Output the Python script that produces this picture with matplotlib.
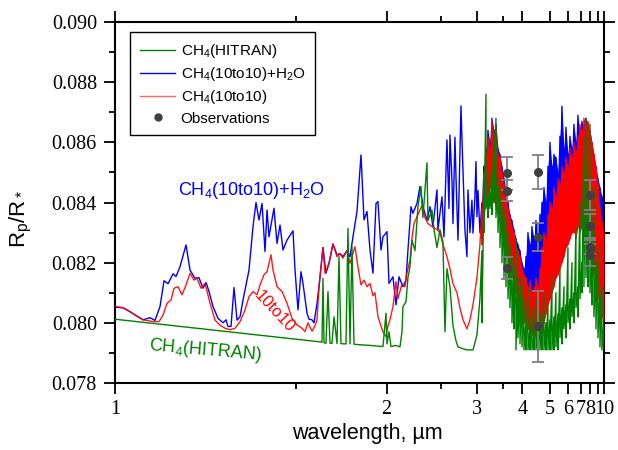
import numpy as np
import matplotlib
matplotlib.use('Agg')
import matplotlib.pyplot as plt
from matplotlib.lines import Line2D
from matplotlib.ticker import FixedLocator, MultipleLocator, FormatStrFormatter

plt.rcParams['font.family'] = ['Liberation Sans', 'DejaVu Sans']
plt.rcParams['mathtext.fontset'] = 'custom'
plt.rcParams['mathtext.rm'] = 'Liberation Sans'
plt.rcParams['mathtext.it'] = 'Liberation Sans'
plt.rcParams['mathtext.default'] = 'regular'

# spectra: wavenumber (cm-1, high -> low) and Rp/R*
green_nu = [10000, 8300, 6209, 6190, 6172, 6153, 6117, 6080, 6043, 6006, 5969, 5914,
            5877, 5841, 5785, 5749, 5712, 5675, 5638, 5601, 5491, 5307, 5068, 5012,
            4994, 4957, 4920, 4828, 4755, 4718, 4700, 4644, 4608, 4571, 4534, 4479,
            4424, 4368, 4332, 4258, 4240, 4166, 4129, 4074, 4019, 3964, 3927, 3890,
            3835, 3779, 3724, 3687, 3614, 3522, 3411, 3338, 3283]
green_val = [0.08012, 0.07978, 0.07936, 0.07936, 0.08148, 0.07934, 0.07932, 0.08104, 0.07932, 0.07932, 0.08020, 0.07931,
             0.08220, 0.07931, 0.07930, 0.07930, 0.08314, 0.07930, 0.08253, 0.07929, 0.07927, 0.07925, 0.07921, 0.08032,
             0.07930, 0.07970, 0.07921, 0.07925, 0.07920, 0.07970, 0.08054, 0.08070, 0.08150, 0.08186, 0.08275, 0.08240,
             0.08386, 0.08453, 0.08350, 0.08532, 0.08340, 0.08375, 0.08310, 0.08250, 0.08310, 0.08270, 0.07970, 0.08180,
             0.08120, 0.07990, 0.07940, 0.07920, 0.07915, 0.07910, 0.07910, 0.07960, 0.08080]

blue_nu = [10000, 9852, 9724, 9595, 9484, 9356, 9264, 9172, 9098, 9024, 8932, 8877,
           8803, 8693, 8619, 8527, 8454, 8380, 8325, 8270, 8196, 8104, 8012, 7957,
           7920, 7865, 7810, 7754, 7699, 7644, 7570, 7534, 7460, 7405, 7350, 7294,
           7239, 7202, 7166, 7074, 7018, 6963, 6908, 6834, 6724, 6687, 6632, 6577,
           6540, 6466, 6429, 6374, 6337, 6282, 6245, 6172, 6117, 6061, 5988, 5914,
           5859, 5804, 5730, 5675, 5620, 5546, 5472, 5417, 5362, 5307, 5252, 5196,
           5160, 5104, 5068, 4994, 4957, 4884, 4828, 4773, 4700, 4644, 4608, 4552,
           4516, 4442, 4387, 4332, 4258, 4203, 4148, 4074, 4056, 3982, 3945, 3890,
           3853, 3835, 3798, 3779, 3743, 3724, 3687, 3632, 3614, 3559, 3522, 3503,
           3467, 3430, 3411, 3375, 3356, 3338, 3319, 3283]
blue_val = [0.08052, 0.08050, 0.08037, 0.08022, 0.08010, 0.08017, 0.08008, 0.08054, 0.08140, 0.08130, 0.08163, 0.08154,
            0.08187, 0.08259, 0.08175, 0.08148, 0.08150, 0.08115, 0.08134, 0.08104, 0.08054, 0.08015, 0.08000, 0.08010,
            0.07988, 0.07988, 0.08117, 0.08009, 0.08020, 0.08076, 0.08142, 0.08175, 0.08320, 0.08400, 0.08342, 0.08397,
            0.08237, 0.08375, 0.08286, 0.08381, 0.08264, 0.08325, 0.08242, 0.08275, 0.08306, 0.08176, 0.08043, 0.08170,
            0.08131, 0.08032, 0.08012, 0.08010, 0.08000, 0.08065, 0.08120, 0.08250, 0.08165, 0.08198, 0.08262, 0.08226,
            0.08230, 0.08220, 0.08240, 0.08220, 0.08286, 0.08370, 0.08558, 0.08342, 0.08370, 0.08242, 0.08165, 0.08397,
            0.08403, 0.08242, 0.08286, 0.08303, 0.08131, 0.08153, 0.08060, 0.08153, 0.08120, 0.08142, 0.08242, 0.08386,
            0.08364, 0.08397, 0.08453, 0.08386, 0.08342, 0.08386, 0.08320, 0.08442, 0.08309, 0.08419, 0.08286, 0.08608,
            0.08380, 0.08624, 0.08475, 0.08330, 0.08617, 0.08486, 0.08275, 0.08721, 0.08610, 0.08309, 0.08220, 0.08442,
            0.08300, 0.08408, 0.08298, 0.08420, 0.08536, 0.08353, 0.08440, 0.08300]

red_nu = [10000, 9852, 9724, 9595, 9484, 9300, 9190, 9116, 9043, 8969, 8914, 8840,
          8767, 8693, 8619, 8546, 8491, 8417, 8343, 8251, 8159, 8067, 7975, 7883,
          7791, 7699, 7607, 7534, 7460, 7386, 7331, 7258, 7202, 7166, 7129, 7092,
          7018, 6926, 6834, 6742, 6650, 6558, 6503, 6448, 6374, 6319, 6282, 6245,
          6172, 6135, 6061, 5988, 5914, 5859, 5804, 5730, 5675, 5583, 5528, 5472,
          5417, 5362, 5307, 5252, 5215, 5160, 5123, 5068, 5012, 4976, 4939, 4884,
          4828, 4792, 4718, 4663, 4626, 4571, 4534, 4497, 4424, 4350, 4295, 4240,
          4166, 4074, 4019, 3964, 3890, 3835, 3779, 3706, 3651, 3595, 3522, 3467,
          3411, 3338, 3319, 3283]
red_val = [0.08055, 0.08050, 0.08037, 0.08022, 0.08010, 0.08004, 0.08004, 0.08026, 0.08065, 0.08076, 0.08115, 0.08120,
           0.08093, 0.08126, 0.08165, 0.08142, 0.08148, 0.08115, 0.08131, 0.08065, 0.08009, 0.07992, 0.07982, 0.07977,
           0.07982, 0.08004, 0.08043, 0.08087, 0.08104, 0.08093, 0.08126, 0.08160, 0.08170, 0.08198, 0.08226, 0.08176,
           0.08120, 0.08104, 0.08065, 0.08015, 0.07993, 0.07982, 0.07971, 0.08000, 0.07972, 0.07990, 0.08010, 0.08120,
           0.08250, 0.08165, 0.08198, 0.08262, 0.08220, 0.08230, 0.08215, 0.08240, 0.08198, 0.08253, 0.08186, 0.08126,
           0.08142, 0.08120, 0.08131, 0.08090, 0.08100, 0.08020, 0.08000, 0.07970, 0.07954, 0.07990, 0.08010, 0.08054,
           0.08137, 0.08080, 0.08130, 0.08120, 0.08165, 0.08209, 0.08280, 0.08330, 0.08360, 0.08390, 0.08350, 0.08330,
           0.08320, 0.08310, 0.08300, 0.08260, 0.08220, 0.08180, 0.08130, 0.08100, 0.08050, 0.08010, 0.07980, 0.08010,
           0.08060, 0.08150, 0.08190, 0.08260]

# dense band region (3.1 - 10 um): upper / lower excursions of each spectrum
dense_nu = [3246, 3209, 3172, 3135, 3099, 3062, 3025, 2988, 2951, 2915, 2878, 2841,
            2804, 2767, 2731, 2694, 2657, 2620, 2583, 2546, 2510, 2473, 2436, 2399,
            2362, 2326, 2289, 2252, 2215, 2178, 2142, 2105, 2068, 2031, 1994, 1958,
            1921, 1884, 1847, 1810, 1774, 1737, 1700, 1663, 1626, 1590, 1553, 1516,
            1479, 1442, 1406, 1369, 1332, 1295, 1258, 1222, 1185, 1148, 1111, 1074,
            1038, 1001]
red_hi = [0.0838, 0.0850, 0.0856, 0.0862, 0.0858, 0.0867, 0.0862, 0.0865, 0.0856, 0.0855, 0.0850, 0.0846,
          0.0842, 0.0838, 0.0835, 0.0832, 0.0830, 0.0826, 0.0824, 0.0822, 0.0818, 0.0816, 0.0815, 0.0812,
          0.0814, 0.0810, 0.0812, 0.0815, 0.0812, 0.0818, 0.0825, 0.0830, 0.0828, 0.0836, 0.0840, 0.0838,
          0.0845, 0.0842, 0.0848, 0.0846, 0.0852, 0.0850, 0.0855, 0.0852, 0.0858, 0.0855, 0.0860, 0.0857,
          0.0862, 0.0866, 0.0864, 0.0868, 0.0866, 0.0867, 0.0864, 0.0860, 0.0856, 0.0852, 0.0846, 0.0838,
          0.0834, 0.0830]
red_lo = [0.0826, 0.0835, 0.0840, 0.0842, 0.0845, 0.0842, 0.0840, 0.0838, 0.0836, 0.0834, 0.0830, 0.0826,
          0.0822, 0.0820, 0.0818, 0.0815, 0.0812, 0.0810, 0.0806, 0.0805, 0.0802, 0.0800, 0.0800, 0.0798,
          0.0797, 0.0796, 0.0795, 0.0796, 0.0795, 0.0797, 0.0798, 0.0800, 0.0803, 0.0806, 0.0808, 0.0810,
          0.0812, 0.0815, 0.0816, 0.0818, 0.0820, 0.0822, 0.0825, 0.0826, 0.0828, 0.0830, 0.0830, 0.0828,
          0.0832, 0.0830, 0.0832, 0.0830, 0.0828, 0.0826, 0.0825, 0.0820, 0.0816, 0.0812, 0.0808, 0.0805,
          0.0802, 0.0800]
blue_hi = [0.0840, 0.0852, 0.0858, 0.0864, 0.0860, 0.0868, 0.0864, 0.0866, 0.0858, 0.0856, 0.0852, 0.0848,
           0.0844, 0.0840, 0.0836, 0.0834, 0.0831, 0.0828, 0.0826, 0.0824, 0.0820, 0.0818, 0.0822, 0.0830,
           0.0826, 0.0832, 0.0828, 0.0834, 0.0830, 0.0836, 0.0840, 0.0845, 0.0840, 0.0852, 0.0860, 0.0852,
           0.0856, 0.0855, 0.0850, 0.0862, 0.0872, 0.0858, 0.0865, 0.0856, 0.0862, 0.0858, 0.0866, 0.0860,
           0.0869, 0.0862, 0.0867, 0.0864, 0.0868, 0.0866, 0.0864, 0.0860, 0.0856, 0.0852, 0.0848, 0.0845,
           0.0842, 0.0840]
blue_lo = [0.0828, 0.0836, 0.0842, 0.0844, 0.0846, 0.0844, 0.0842, 0.0840, 0.0838, 0.0836, 0.0832, 0.0828,
           0.0824, 0.0822, 0.0820, 0.0817, 0.0814, 0.0812, 0.0808, 0.0807, 0.0804, 0.0802, 0.0805, 0.0808,
           0.0806, 0.0810, 0.0806, 0.0810, 0.0808, 0.0812, 0.0815, 0.0818, 0.0820, 0.0824, 0.0826, 0.0828,
           0.0830, 0.0832, 0.0832, 0.0834, 0.0836, 0.0838, 0.0835, 0.0840, 0.0838, 0.0842, 0.0840, 0.0845,
           0.0842, 0.0845, 0.0840, 0.0842, 0.0840, 0.0838, 0.0835, 0.0832, 0.0828, 0.0822, 0.0818, 0.0812,
           0.0810, 0.0808]
green_hi = [0.0824, 0.0845, 0.0876, 0.0842, 0.0850, 0.0845, 0.0864, 0.0868, 0.0848, 0.0845, 0.0840, 0.0838,
            0.0835, 0.0830, 0.0826, 0.0822, 0.0818, 0.0828, 0.0815, 0.0812, 0.0815, 0.0808, 0.0800, 0.0812,
            0.0798, 0.0805, 0.0796, 0.0808, 0.0798, 0.0803, 0.0799, 0.0810, 0.0800, 0.0806, 0.0801, 0.0815,
            0.0802, 0.0810, 0.0803, 0.0818, 0.0805, 0.0812, 0.0806, 0.0825, 0.0808, 0.0820, 0.0810, 0.0832,
            0.0812, 0.0840, 0.0820, 0.0862, 0.0868, 0.0840, 0.0866, 0.0830, 0.0845, 0.0820, 0.0825, 0.0810,
            0.0812, 0.0800]
green_lo = [0.0800, 0.0830, 0.0838, 0.0835, 0.0838, 0.0836, 0.0840, 0.0835, 0.0830, 0.0825, 0.0820, 0.0815,
            0.0812, 0.0808, 0.0805, 0.0800, 0.0798, 0.0791, 0.0795, 0.0793, 0.0792, 0.0791, 0.0791, 0.0791,
            0.0791, 0.0791, 0.0791, 0.0791, 0.0791, 0.0791, 0.0791, 0.0791, 0.0791, 0.0791, 0.0791, 0.0791,
            0.0791, 0.0792, 0.0791, 0.0795, 0.0793, 0.0798, 0.0795, 0.0800, 0.0798, 0.0802, 0.0800, 0.0805,
            0.0802, 0.0808, 0.0810, 0.0812, 0.0815, 0.0812, 0.0810, 0.0806, 0.0802, 0.0798, 0.0795, 0.0792,
            0.0791, 0.0791]

# Spitzer photometry
obs_wl = [3.6, 3.6, 3.6, 4.5, 4.5, 4.5, 8.0, 8.0, 8.0, 8.0]
obs_val = [0.08497, 0.08439, 0.08183, 0.08502, 0.08286, 0.07989, 0.08425, 0.08322, 0.08251, 0.08226]
obs_err = [0.00055, 0.00035, 0.00036, 0.00057, 0.00047, 0.00118, 0.00050, 0.00040, 0.00023, 0.00037]


def spectrum(nu, val, hi, lo):
    nu_all = np.concatenate([nu, np.repeat(dense_nu, 2)])
    val_all = np.concatenate([val, np.column_stack([hi, lo]).ravel()])
    return 1e4 / nu_all, val_all


def wn_fwd(x):
    # axis linear in wavenumber
    x = np.asarray(x, dtype=float)
    with np.errstate(divide='ignore', invalid='ignore'):
        return -1.0 / x


def wn_inv(y):
    y = np.asarray(y, dtype=float)
    with np.errstate(divide='ignore', invalid='ignore'):
        return -1.0 / y


fig = plt.figure(figsize=(6.18, 4.5), dpi=100)
ax = fig.add_axes([0.1861, 0.1489, 0.7912, 0.8022])
ax.set_xlim(1, 10)
ax.set_ylim(0.078, 0.090)
ax.set_xscale('function', functions=(wn_fwd, wn_inv))

dense_wl = 1e4 / np.array(dense_nu, dtype=float)

wl, val = spectrum(blue_nu, blue_val, blue_hi, blue_lo)
ax.plot(wl, val, color='#0000ff', lw=1.0, zorder=2)
ax.fill_between(dense_wl, blue_lo, blue_hi, color='#0000ff', lw=0, zorder=2)
wl, val = spectrum(red_nu, red_val, red_hi, red_lo)
ax.plot(wl, val, color='#ff0000', lw=1.0, alpha=0.9, zorder=3)
ax.fill_between(dense_wl, red_lo, red_hi, color='#ff0000', lw=0, zorder=3)
wl, val = spectrum(green_nu, green_val, green_hi, green_lo)
ax.plot(wl, val, color='#008000', lw=1.0, zorder=4)

ax.errorbar(obs_wl, obs_val, yerr=obs_err, fmt='o', color='#404040', ecolor='#808080',
            elinewidth=1.3, capsize=4, capthick=1.3, markersize=5.5, zorder=6)

ax.set_xlim(1, 10)
ax.set_ylim(0.078, 0.090)
ax.xaxis.set_major_locator(FixedLocator([1, 2, 3, 4, 5, 6, 7, 8, 9, 10]))
ax.set_xticklabels(['1', '2', '3', '4', '5', '6', '7', '8', '', '10'])
ax.xaxis.set_minor_locator(FixedLocator([1.5, 2.5, 3.5]))
ax.yaxis.set_major_locator(MultipleLocator(0.002))
ax.yaxis.set_minor_locator(MultipleLocator(0.001))
ax.yaxis.set_major_formatter(FormatStrFormatter('%.3f'))

ax.tick_params(which='both', direction='out', top=True, right=True, width=1.3,
               labelsize=14.5, labelfontfamily='Liberation Serif', pad=5)
ax.tick_params(axis='x', which='both', pad=4)
ax.tick_params(which='major', length=8)
ax.tick_params(which='minor', length=4)
for s in ax.spines.values():
    s.set_linewidth(1.5)

ax.set_xlabel('wavelength, µm', fontsize=15.5)
ax.xaxis.set_label_coords(0.517, -0.11)
ax.set_ylabel('R$_p$/R$_*$', fontsize=16)
ax.yaxis.set_label_coords(-0.165, 0.454)

ax.text(0.129, 0.521, 'CH$_4$(10to10)+H$_2$O', color='#0000ff', fontsize=13,
        transform=ax.transAxes, ha='left', va='baseline')
ax.text(0.186, 0.091, 'CH$_4$(HITRAN)', color='#008000', fontsize=13, rotation=-5,
        rotation_mode='anchor', transform=ax.transAxes, ha='center', va='center')
ax.text(0.327, 0.197, '10to10', color='#ff0000', fontsize=12, rotation=-47,
        rotation_mode='anchor', transform=ax.transAxes, ha='center', va='center')

handles = [Line2D([], [], color='#008000', lw=1.0),
           Line2D([], [], color='#0000ff', lw=1.0),
           Line2D([], [], color='#ff0000', lw=1.0, alpha=0.6),
           Line2D([], [], color='#404040', marker='o', ls='none', markersize=5)]
labels = ['CH$_4$(HITRAN)', 'CH$_4$(10to10)+H$_2$O', 'CH$_4$(10to10)', 'Observations']
leg = ax.legend(handles, labels, loc='upper left', bbox_to_anchor=(0.031, 0.971),
                borderaxespad=0, fontsize=11, fancybox=False, edgecolor='black',
                framealpha=1, handlelength=2.3, handletextpad=0.35,
                labelspacing=0.33, borderpad=0.65)
leg.get_frame().set_linewidth(1.0)

fig.savefig('out.png', dpi=100)
